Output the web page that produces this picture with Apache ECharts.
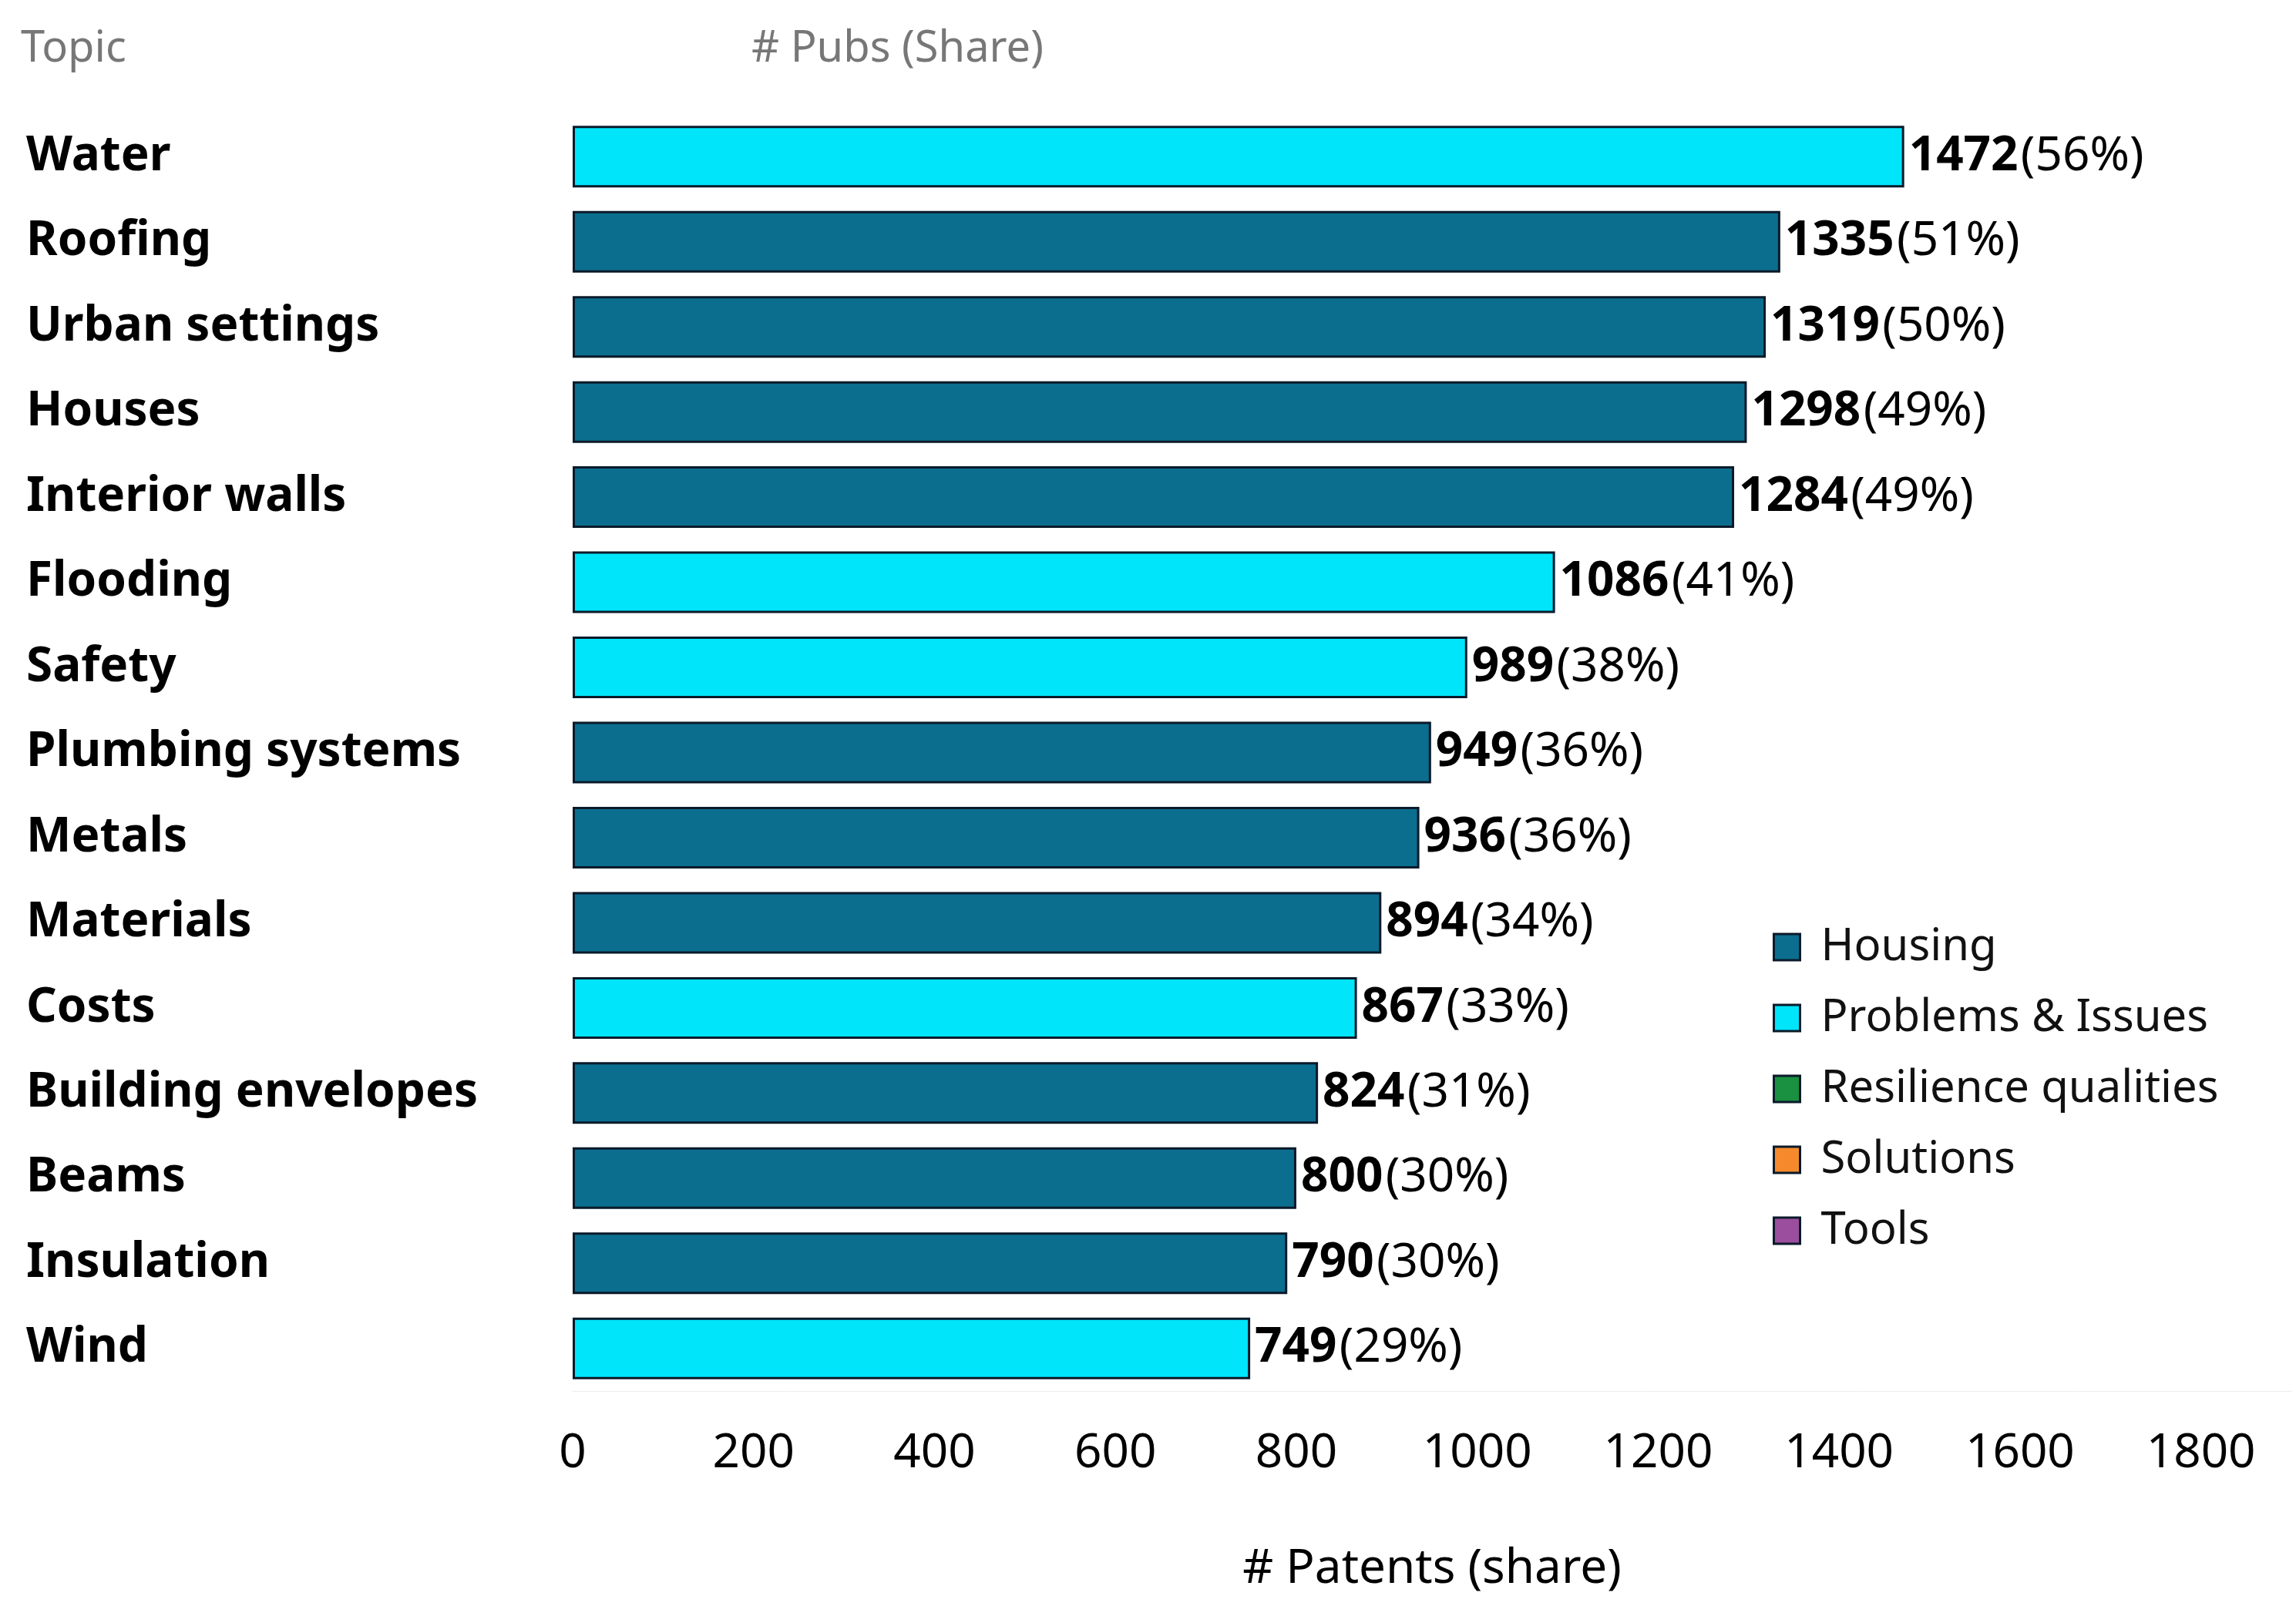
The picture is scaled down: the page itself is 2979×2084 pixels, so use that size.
<!DOCTYPE html>
<html><head><meta charset="utf-8">
<script src="https://cdn.jsdelivr.net/npm/echarts@6/dist/echarts.min.js"></script>
<style>html,body{margin:0;padding:0;background:#fff}#c{width:2979px;height:2084px}</style>
</head><body><div id="c"></div>
<script>
const topics = ["Water","Roofing","Urban settings","Houses","Interior walls","Flooding","Safety","Plumbing systems","Metals","Materials","Costs","Building envelopes","Beams","Insulation","Wind"];
const counts = [1472,1335,1319,1298,1284,1086,989,949,936,894,867,824,800,790,749];
const shares = [56,51,50,49,49,41,38,36,36,34,33,31,30,30,29];
const groups = ["Problems & Issues","Housing","Housing","Housing","Housing","Problems & Issues","Problems & Issues","Housing","Housing","Housing","Problems & Issues","Housing","Housing","Housing","Problems & Issues"];
const legendNames = ["Housing","Problems & Issues","Resilience qualities","Solutions","Tools"];
const colors = {"Housing":"#0B6E8F","Problems & Issues":"#00E5FA","Resilience qualities":"#1A9140","Solutions":"#F58A2C","Tools":"#9B4E9E"};
const xTicks = [0,200,400,600,800,1000,1200,1400,1600,1800];

const FONT = "'Noto Sans', sans-serif";
const series = legendNames.map(name => ({
  name, type: 'bar', stack: 'a', barWidth: 80,
  itemStyle: {color: colors[name], borderColor: '#0a1a2a', borderWidth: 3},
  data: counts.map((v,i) => groups[i] === name ? v : '-'),
  label: {show: true, position: 'right', distance: 6,
    formatter: p => '{b|' + counts[p.dataIndex] + '} {n|(' + shares[p.dataIndex] + '%)}',
    rich: {b: {fontFamily: FONT, fontWeight: 'bold', fontSize: 62, color: '#000'},
           n: {fontFamily: FONT, fontSize: 62, color: '#000'}}}
}));
const chart = echarts.init(document.getElementById('c'));
chart.setOption({
  animation: false,
  graphic: [
    {type:'text', left: 27, top: 36, style:{text:'Topic', font:"56px 'Noto Sans'", fill:'#777'}},
    {type:'text', left: 975, top: 36, style:{text:'# Pubs (Share)', font:"56px 'Noto Sans'", fill:'#777'}}
  ],
  legend: {orient: 'vertical', left: 2295, top: 1195, itemWidth: 34, itemHeight: 34, itemGap: 34,
    data: legendNames, icon: 'rect',
    itemStyle: {borderColor: '#0a1a2a', borderWidth: 3},
    textStyle: {fontFamily: FONT, fontSize: 58, color: '#111', padding: [0,0,0,22]}},
  grid: {left: 743, right: 6, top: 148, bottom: 279, containLabel: false},
  xAxis: {type: 'value', min: 0, max: 1900, interval: 200,
    name: '# Patents (share)', nameLocation: 'middle', nameGap: 200,
    nameTextStyle: {fontFamily: FONT, fontSize: 62, color: '#000'},
    axisLine: {show: true, lineStyle: {color: '#eee'}}, axisTick: {show: false},
    splitLine: {show: false},
    axisLabel: {fontFamily: FONT, fontSize: 62, color: '#000', margin: 50,
      formatter: v => xTicks.includes(v) ? String(v) : ''}},
  yAxis: {type: 'category', data: topics, inverse: true,
    axisLine: {show: false}, axisTick: {show: false},
    axisLabel: {fontFamily: FONT, fontWeight: 'bold', fontSize: 62, color: '#000',
      align: 'left', margin: 709}},
  series
});
</script></body></html>
